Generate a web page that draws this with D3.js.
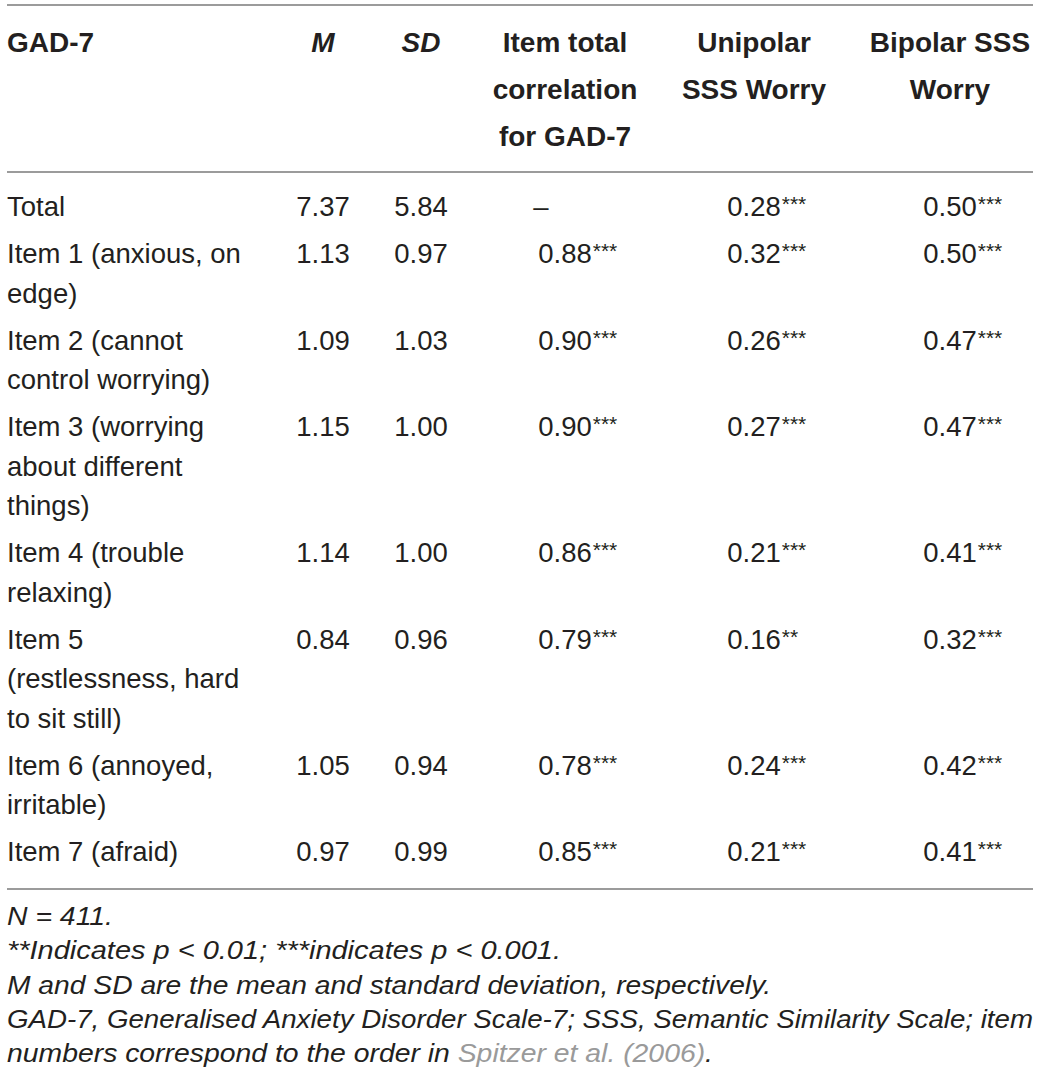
<!DOCTYPE html>
<html>
<head>
<meta charset="utf-8">
<script src="https://cdn.jsdelivr.net/npm/d3@7"></script>
<style>
  html, body { margin: 0; padding: 0; background: #fff; }
  svg { display: block; }
</style>
</head>
<body>
<script>
/* table data */
var headers = [["GAD-7"], ["M"], ["SD"], ["Item total", "correlation", "for GAD-7"], ["Unipolar", "SSS Worry"], ["Bipolar SSS", "Worry"]];
var labels = [
    ["Total"],
    ["Item 1 (anxious, on", "edge)"],
    ["Item 2 (cannot", "control worrying)"],
    ["Item 3 (worrying", "about different", "things)"],
    ["Item 4 (trouble", "relaxing)"],
    ["Item 5", "(restlessness, hard", "to sit still)"],
    ["Item 6 (annoyed,", "irritable)"],
    ["Item 7 (afraid)"]
];
var means = [7.37, 1.13, 1.09, 1.15, 1.14, 0.84, 1.05, 0.97];
var sds = [5.84, 0.97, 1.03, 1.00, 1.00, 0.96, 0.94, 0.99];
var itemTotal = [null, 0.88, 0.90, 0.90, 0.86, 0.79, 0.78, 0.85];
var itemTotalSig = ["", "***", "***", "***", "***", "***", "***", "***"];
var unipolar = [0.28, 0.32, 0.26, 0.27, 0.21, 0.16, 0.24, 0.21];
var unipolarSig = ["***", "***", "***", "***", "***", "**", "***", "***"];
var bipolar = [0.50, 0.50, 0.47, 0.47, 0.41, 0.32, 0.42, 0.41];
var bipolarSig = ["***", "***", "***", "***", "***", "***", "***", "***"];
var notes = [
    "N = 411.",
    "**Indicates p < 0.01; ***indicates p < 0.001.",
    "M and SD are the mean and standard deviation, respectively.",
    "GAD-7, Generalised Anxiety Disorder Scale-7; SSS, Semantic Similarity Scale; item"
];

var W = 1040, H = 1087;
var font = "'Liberation Sans', Arial, Helvetica, sans-serif";
var ink = "#231f20";
var rule = "#7a7a7a";
var fmt = d3.format(".2f");

// column centres
var colX = [7, 323, 421, 565, 754, 950];

var svg = d3.select("body").append("svg")
    .attr("width", W)
    .attr("height", H);

// horizontal rules
[5, 172, 889].forEach(function(y){
    svg.append("line")
        .attr("x1", 7).attr("x2", 1033)
        .attr("y1", y).attr("y2", y)
        .style("stroke", rule)
        .style("stroke-width", 1.6);
});

// header
var headG = svg.append("g")
    .style("font-family", font)
    .style("font-weight", "bold")
    .style("font-size", "28px")
    .style("fill", ink);

headers.forEach(function(lines, c){
    lines.forEach(function(t, i){
        headG.append("text")
            .attr("x", colX[c])
            .attr("y", 52 + i * 47)
            .attr("text-anchor", c === 0 ? "start" : "middle")
            .style("font-style", (c === 1 || c === 2) ? "italic" : "normal")
            .text(t);
    });
});

// row baselines: 47 between rows, 39.5 for wrapped lines
var rowY = [];
var y = 216;
labels.forEach(function(l){
    rowY.push(y);
    y += 47 + (l.length - 1) * 39.5;
});

var body = svg.append("g")
    .style("font-family", font)
    .style("font-size", "27.5px")
    .style("fill", ink);

// first column labels
labels.forEach(function(lines, r){
    lines.forEach(function(t, i){
        body.append("text")
            .attr("x", colX[0])
            .attr("y", rowY[r] + i * 39.5)
            .text(t);
    });
});

function plainCol(vals, c){
    vals.forEach(function(v, r){
        body.append("text")
            .attr("x", colX[c])
            .attr("y", rowY[r])
            .attr("text-anchor", "middle")
            .text(fmt(v));
    });
}

function sigCol(vals, sig, c){
    vals.forEach(function(v, r){
        if(v === null){
            body.append("text")
                .attr("x", colX[c] - 24)
                .attr("y", rowY[r])
                .attr("text-anchor", "middle")
                .text("\u2013");
            return;
        }
        var t = body.append("text")
            .attr("x", colX[c])
            .attr("y", rowY[r])
            .attr("text-anchor", "middle")
            .text(fmt(v));
        var half = t.node().getComputedTextLength() / 2;
        body.append("text")
            .attr("x", colX[c] + half + 1)
            .attr("y", rowY[r] - 5)
            .style("font-size", "21px")
            .text(sig[r]);
    });
}

plainCol(means, 1);
plainCol(sds, 2);
sigCol(itemTotal, itemTotalSig, 3);
sigCol(unipolar, unipolarSig, 4);
sigCol(bipolar, bipolarSig, 5);

// footnotes
var noteW = [106, 554, 764, 1026];
var noteG = svg.append("g")
    .style("font-family", font)
    .style("font-style", "italic")
    .style("font-size", "26px")
    .style("fill", ink);

notes.forEach(function(t, i){
    noteG.append("text")
        .attr("x", 7)
        .attr("y", 925 + i * 34.3)
        .attr("textLength", noteW[i])
        .attr("lengthAdjust", "spacingAndGlyphs")
        .text(t);
});

var last = noteG.append("text")
    .attr("x", 7)
    .attr("y", 925 + 4 * 34.3)
    .attr("textLength", 706)
    .attr("lengthAdjust", "spacingAndGlyphs");
last.append("tspan").text("numbers correspond to the order in ");
last.append("tspan").style("fill", "#9a9a9a").text("Spitzer et al. (2006)");
last.append("tspan").text(".");
</script>
</body>
</html>
